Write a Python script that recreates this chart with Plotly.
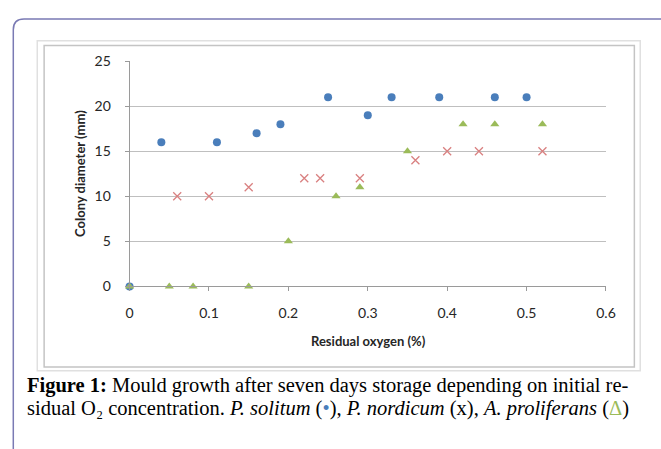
import plotly.graph_objects as go

W, H = 661, 449

# Data
solitum_x = [0, 0.04, 0.11, 0.16, 0.19, 0.25, 0.30, 0.33, 0.39, 0.46, 0.50]
solitum_y = [0, 16, 16, 17, 18, 21, 19, 21, 21, 21, 21]

nordicum_x = [0.06, 0.10, 0.15, 0.22, 0.24, 0.29, 0.36, 0.40, 0.44, 0.52]
nordicum_y = [10, 10, 11, 12, 12, 12, 14, 15, 15, 15]

prolif_x = [0, 0.05, 0.08, 0.15, 0.20, 0.26, 0.29, 0.35, 0.42, 0.46, 0.52]
prolif_y = [0, 0, 0, 0, 5, 10, 11, 15, 18, 18, 18]

x_ticks = [0, 0.1, 0.2, 0.3, 0.4, 0.5, 0.6]
x_ticklabels = ["0", "0.1", "0.2", "0.3", "0.4", "0.5", "0.6"]
y_ticks = [0, 5, 10, 15, 20, 25]

# plot area in pixels
PL, PR, PT, PB = 128.3, 615.0, 54.3, 288.3


def px(x):
    return x / W


def py(y):
    return 1 - y / H


fig = go.Figure()
fig.add_trace(go.Scatter(x=solitum_x, y=solitum_y, mode="markers", name="P. solitum",
                         marker=dict(symbol="circle", size=8, color="#4a7ebb"), cliponaxis=False))
fig.add_trace(go.Scatter(x=nordicum_x, y=nordicum_y, mode="markers", name="P. nordicum",
                         marker=dict(symbol="x-thin", size=8, color="#d98080",
                                     line=dict(width=1.3, color="#d98080")), cliponaxis=False))
fig.add_trace(go.Scatter(x=prolif_x, y=prolif_y, mode="markers", name="A. proliferans",
                         marker=dict(symbol="triangle-up", size=8, color="#9bbb59"), cliponaxis=False))

tickfont = dict(family="Lato, Open Sans, sans-serif", size=14, color="#262626")

fig.update_layout(
    width=W, height=H,
    margin=dict(l=0, r=0, t=0, b=0),
    paper_bgcolor="white", plot_bgcolor="white",
    showlegend=False,
    xaxis=dict(domain=[px(PL), px(PR)], range=[0, 0.6], tickvals=x_ticks, ticktext=x_ticklabels,
               showgrid=False, zeroline=False, showline=True, linecolor="#9a9a9a", linewidth=1,
               ticks="outside", ticklen=4, tickcolor="#9a9a9a", tickfont=tickfont,
               ticklabelstandoff=10, fixedrange=True),
    yaxis=dict(domain=[py(PB), py(PT)], range=[0, 25], tickvals=y_ticks,
               showgrid=True, gridcolor="#bfbfbf", gridwidth=1, zeroline=False,
               showline=True, linecolor="#9a9a9a", linewidth=1,
               ticks="outside", ticklen=4, tickcolor="#9a9a9a", tickfont=tickfont,
               ticklabelstandoff=11, fixedrange=True),
)

shapes = []
# outer rounded frame
r = 11
x0, y0 = 9.5, 10.5
path = (f"M {px(x0)},{py(470)} L {px(x0)},{py(y0 + r)} "
        f"Q {px(x0)},{py(y0)} {px(x0 + r)},{py(y0)} L {px(700)},{py(y0)}")
shapes.append(dict(type="path", xref="paper", yref="paper", path=path,
                   line=dict(color="#7a7ab4", width=1.5)))
# chart box frames
shapes.append(dict(type="rect", xref="paper", yref="paper", x0=px(34), x1=px(650), y0=py(376), y1=py(33),
                   line=dict(color="#e0e0e0", width=1.5)))
shapes.append(dict(type="rect", xref="paper", yref="paper", x0=px(41), x1=px(644), y0=py(372), y1=py(38),
                   line=dict(color="#c4c4c4", width=1.5)))
fig.update_layout(shapes=shapes)

titlefont = dict(family="Lato, Open Sans, sans-serif", size=13, color="#262626")
serif = dict(family="Liberation Serif, Times New Roman, serif", size=20.5, color="black")
fig.update_layout(annotations=[
    dict(text="<b>Residual oxygen (%)</b>", xref="paper", yref="paper", x=px(372), y=py(345),
         showarrow=False, xanchor="center", yanchor="middle", font=titlefont),
    dict(text="<b>Colony diameter (mm)</b>", xref="paper", yref="paper", x=px(77), y=py(171),
         showarrow=False, xanchor="center", yanchor="middle", textangle=-90, font=titlefont),
    dict(text="<b>Figure 1:</b> Mould growth after seven days storage depending on initial re-",
         xref="paper", yref="paper", x=px(21.5), y=py(391.5), showarrow=False,
         xanchor="left", yanchor="middle", font=serif),
    dict(text="sidual O₂ concentration. <i>P. solitum</i> (<span style='color:#4a7ebb'>•</span>), "
              "<i>P. nordicum</i> (x), <i>A. proliferans</i> (<span style='color:#9bbb59'>Δ</span>)",
         xref="paper", yref="paper", x=px(21.5), y=py(415), showarrow=False,
         xanchor="left", yanchor="middle", font=serif),
])

fig.write_html("out.html")
